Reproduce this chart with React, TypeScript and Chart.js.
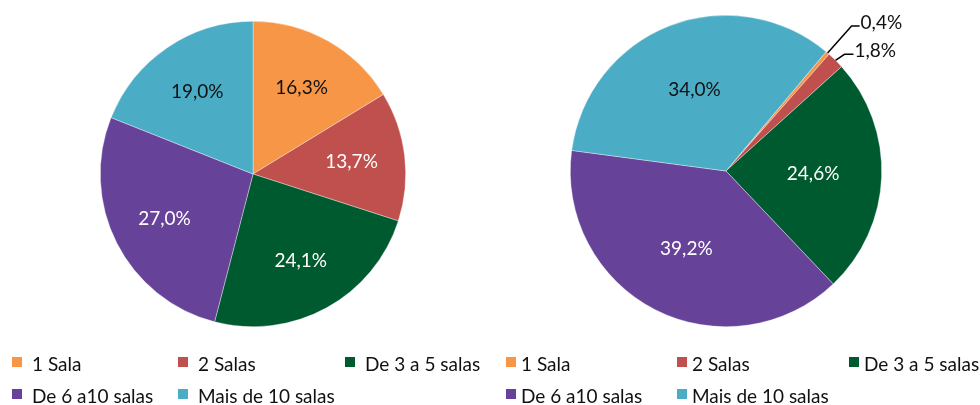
import React, { useEffect, useRef } from "react";
import { Chart, registerables } from "chart.js";

Chart.register(...registerables);

const categories = ["1 Sala", "2 Salas", "De 3 a 5 salas", "De 6 a10 salas", "Mais de 10 salas"];
const leftValues = [16.3, 13.7, 24.1, 27.0, 19.0];
const rightValues = [0.4, 1.8, 24.6, 39.2, 34.0];
const sliceColors = ["#F79646", "#C0504D", "#005A2F", "#664399", "#4BACC6"];
const labelColors = ["#111111", "#FFFFFF", "#FFFFFF", "#FFFFFF", "#111111"];

const FONT = "Lato, 'Open Sans', sans-serif";

const fmt = (v: number) => v.toFixed(1).replace(".", ",") + "%";

const pieLabels = {
  id: "pieLabels",
  afterDatasetsDraw(chart: any, _args: any, opts: any) {
    const ctx = chart.ctx;
    const meta = chart.getDatasetMeta(0);
    const data = chart.data.datasets[0].data as number[];
    ctx.save();
    ctx.font = `${opts.fontSize || 17}px ${FONT}`;
    meta.data.forEach((arc: any, i: number) => {
      const v = data[i];
      const mid = (arc.startAngle + arc.endAngle) / 2;
      const ext = opts.external && opts.external[i];
      if (ext) {
        const ex = arc.x + Math.cos(mid) * arc.outerRadius;
        const ey = arc.y + Math.sin(mid) * arc.outerRadius;
        const bx = ex + ext.dx;
        const by = ey + ext.dy;
        const hx = bx + ext.h;
        ctx.strokeStyle = "#000";
        ctx.lineWidth = 1.5;
        ctx.beginPath();
        ctx.moveTo(ex, ey);
        ctx.lineTo(bx, by);
        ctx.lineTo(hx, by);
        ctx.stroke();
        ctx.fillStyle = "#111";
        ctx.textAlign = "left";
        ctx.textBaseline = "middle";
        ctx.fillText(fmt(v), hx + 1, by - 3);
        return;
      }
      const r = arc.outerRadius * (opts.radiusFrac || 0.6);
      const x = arc.x + Math.cos(mid) * r;
      const y = arc.y + Math.sin(mid) * r;
      ctx.fillStyle = labelColors[i];
      ctx.textAlign = "center";
      ctx.textBaseline = "middle";
      ctx.fillText(fmt(v), x, y);
    });
    ctx.restore();
  },
};

const gridLegend = {
  id: "gridLegend",
  afterDraw(chart: any, _args: any, opts: any) {
    const ctx = chart.ctx;
    const labels = chart.data.labels as string[];
    const colors = chart.data.datasets[0].backgroundColor as string[];
    ctx.save();
    ctx.font = `19px ${FONT}`;
    ctx.textBaseline = "middle";
    ctx.textAlign = "left";
    labels.forEach((lab, i) => {
      const col = i % 3;
      const row = Math.floor(i / 3);
      const x = opts.cols[col];
      const y = opts.rows[row];
      ctx.fillStyle = colors[i];
      ctx.fillRect(x, y - 5, 10, 10);
      ctx.fillStyle = "#111";
      ctx.fillText(lab, x + opts.textOffset, y + 3);
    });
    ctx.restore();
  },
};

function PieChart(props: {
  values: number[];
  rotation: number;
  padding: { left: number; right: number; top: number; bottom: number };
  radiusFrac: number;
  external?: any;
  legendCols: number[];
  textOffset: number;
}) {
  const ref = useRef<HTMLCanvasElement | null>(null);
  useEffect(() => {
    if (!ref.current) return;
    const chart = new Chart(ref.current, {
      type: "pie",
      data: {
        labels: categories,
        datasets: [
          {
            data: props.values,
            backgroundColor: sliceColors,
            borderColor: "rgba(255,255,255,0.6)",
            borderWidth: 0.6,
          },
        ],
      },
      options: {
        animation: false,
        responsive: false,
        devicePixelRatio: 1,
        rotation: props.rotation,
        layout: { padding: props.padding },
        plugins: {
          legend: { display: false },
          tooltip: { enabled: false },
          pieLabels: { radiusFrac: props.radiusFrac, external: props.external, fontSize: 19 },
          gridLegend: { cols: props.legendCols, rows: [362, 394], textOffset: props.textOffset },
        } as any,
      },
      plugins: [pieLabels, gridLegend],
    });
    return () => chart.destroy();
  }, []);
  return <canvas ref={ref} width={490} height={405} style={{ display: "block" }} />;
}

export default function App() {
  return (
    <div style={{ position: "fixed", left: 0, top: 0, width: 980, height: 405, background: "#fff", display: "flex" }}>
      <PieChart
        values={leftValues}
        rotation={0}
        padding={{ left: 100, right: 84, top: 21, bottom: 78 }}
        radiusFrac={0.65}
        legendCols={[12, 178, 345]}
        textOffset={20}
      />
      <PieChart
        values={rightValues}
        rotation={40}
        padding={{ left: 80, right: 98, top: 15, bottom: 78 }}
        radiusFrac={0.56}
        external={{ 0: { dx: 24, dy: -27, h: 8 }, 1: { dx: 9, dy: -6, h: 9 } }}
        legendCols={[16, 187, 359]}
        textOffset={15}
      />
    </div>
  );
}
